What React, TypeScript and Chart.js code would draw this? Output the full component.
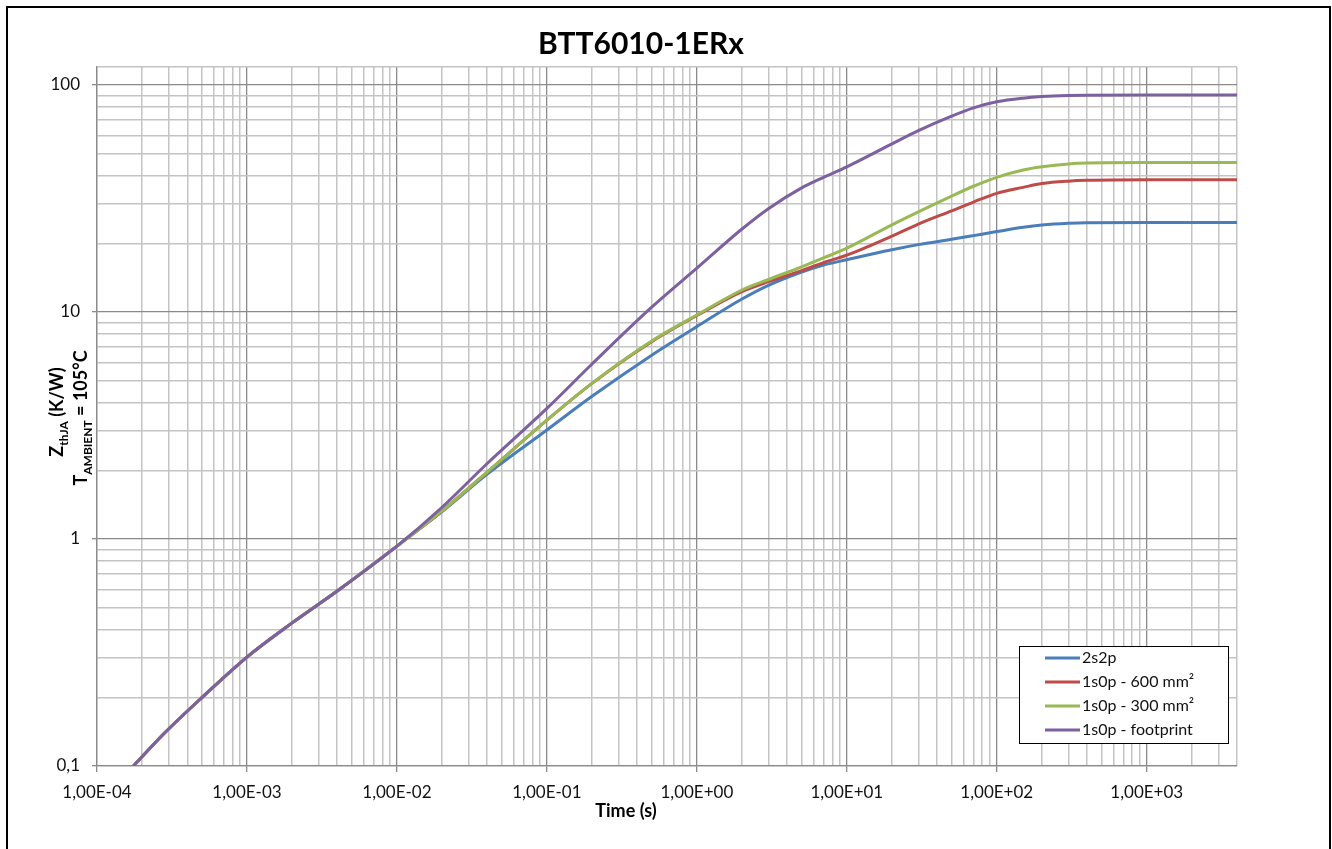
import React, { useEffect, useRef } from 'react';
import { Chart, registerables } from 'chart.js';

Chart.register(...registerables);

const CHART_TITLE = 'BTT6010-1ERx';
const X_TITLE = 'Time (s)';

const TIME_S = [1.75e-4, 2.8e-4, 5e-4, 1e-3, 2e-3, 4e-3, 1e-2, 2e-2, 4e-2, 0.1, 0.2, 0.5, 1, 2, 3, 5, 7, 10, 20, 30, 50, 70, 100, 150, 200, 300, 400, 1000, 4000];
const Z_2S2P = [0.1, 0.139, 0.2, 0.302, 0.427, 0.59, 0.93, 1.32, 1.93, 3.02, 4.25, 6.45, 8.62, 11.4, 13.1, 15.0, 16.1, 17.0, 18.8, 19.8, 20.9, 21.7, 22.6, 23.6, 24.15, 24.6, 24.75, 24.8, 24.8];
const Z_600 = [0.1, 0.139, 0.2, 0.302, 0.427, 0.59, 0.93, 1.33, 1.97, 3.34, 4.85, 7.4, 9.65, 12.3, 13.6, 15.2, 16.5, 17.8, 21.6, 24.4, 27.9, 30.5, 33.3, 35.4, 36.8, 37.7, 38.0, 38.2, 38.2];
const Z_300 = [0.1, 0.139, 0.2, 0.302, 0.427, 0.59, 0.93, 1.33, 1.97, 3.34, 4.85, 7.45, 9.7, 12.5, 13.9, 15.8, 17.3, 19.1, 24.2, 27.6, 32.4, 35.8, 39.2, 42.2, 43.6, 44.9, 45.3, 45.5, 45.5];
const Z_FOOTPRINT = [0.1, 0.139, 0.2, 0.302, 0.427, 0.59, 0.93, 1.38, 2.15, 3.76, 5.9, 10.5, 15.6, 23.2, 28.5, 35.2, 39.2, 43.6, 55.0, 62.9, 72.9, 79.3, 84.3, 87.5, 88.9, 89.9, 90.2, 90.3, 90.3];

const SERIES_LABELS = ['2s2p', '1s0p - 600 mm²', '1s0p - 300 mm²', '1s0p - footprint'];
const SERIES_VALUES = [Z_2S2P, Z_600, Z_300, Z_FOOTPRINT];
const SERIES_COLORS = ['#4A7EBB', '#BE4B48', '#98B954', '#7D60A0'];

const X_MIN = 1e-4;
const X_MAX = 4000;
const Y_MIN = 0.1;
const Y_MAX = 120;
const Y_TICK_LABELS: Record<string, string> = { '0.1': '0,1', '1': '1', '10': '10', '100': '100' };

const FONT = 'Lato, "Noto Sans", sans-serif';

function isPow10(v: number) {
  const l = Math.log10(v);
  return Math.abs(l - Math.round(l)) < 1e-9;
}

function buildLogTicks(min: number, max: number) {
  const ticks: { value: number; major: boolean }[] = [];
  const e0 = Math.floor(Math.log10(min) + 1e-9);
  const e1 = Math.ceil(Math.log10(max) - 1e-9);
  for (let e = e0; e <= e1; e++) {
    for (let m = 1; m <= 9; m++) {
      const v = parseFloat((m * Math.pow(10, e)).toPrecision(6));
      if (v >= min * (1 - 1e-9) && v <= max * (1 + 1e-9)) ticks.push({ value: v, major: m === 1 });
    }
  }
  if (ticks[ticks.length - 1].value < max * (1 - 1e-9)) ticks.push({ value: max, major: false });
  return ticks;
}

function fmtX(v: number) {
  const s = v.toExponential(2).replace('.', ',');
  return s.replace(/e([+-])(\d+)$/, (_m, sg, d) => 'E' + sg + (d.length < 2 ? '0' + d : d));
}

const MAJOR_GRID = '#8a8a8a';
const MINOR_GRID = '#c4c4c4';

const decorPlugin = {
  id: 'decor',
  beforeDraw(chart: any) {
    const ctx = chart.ctx;
    ctx.save();
    ctx.fillStyle = '#ffffff';
    ctx.fillRect(0, 0, chart.width, chart.height);
    ctx.restore();
  },
  afterDraw(chart: any) {
    const ctx = chart.ctx;
    ctx.save();
    // outer frame
    ctx.strokeStyle = '#000';
    ctx.lineWidth = 2;
    ctx.strokeRect(7, 7, chart.width - 9, chart.height + 10);

    // title
    ctx.fillStyle = '#000';
    ctx.font = `bold 30px ${FONT}`;
    ctx.textAlign = 'center';
    ctx.textBaseline = 'middle';
    ctx.fillText(CHART_TITLE, 641, 44);

    // x title
    ctx.font = `bold 18px ${FONT}`;
    ctx.fillText(X_TITLE, 626, 811);

    // y title (rotated, two lines with subscripts)
    const drawRuns = (runs: { t: string; size: number; dy: number }[], cx: number, cy: number) => {
      ctx.save();
      ctx.translate(cx, cy);
      ctx.rotate(-Math.PI / 2);
      ctx.textAlign = 'left';
      ctx.textBaseline = 'alphabetic';
      let w = 0;
      for (const r of runs) {
        ctx.font = `bold ${r.size}px ${FONT}`;
        w += ctx.measureText(r.t).width;
      }
      let x = -w / 2;
      for (const r of runs) {
        ctx.font = `bold ${r.size}px ${FONT}`;
        ctx.fillText(r.t, x, r.dy);
        x += ctx.measureText(r.t).width;
      }
      ctx.restore();
    };
    drawRuns([
      { t: 'Z', size: 18, dy: 0 },
      { t: 'thJA', size: 12, dy: 5 },
      { t: ' (K/W)', size: 18, dy: 0 },
    ], 63, 412);
    drawRuns([
      { t: 'T', size: 18, dy: 0 },
      { t: 'AMBIENT', size: 12, dy: 5 },
      { t: ' = 105°C', size: 18, dy: 0 },
    ], 87, 418);

    // legend
    const lx = 1019, ly = 646, lw = 209, lh = 97;
    ctx.fillStyle = '#fff';
    ctx.fillRect(lx, ly, lw, lh);
    ctx.strokeStyle = '#000';
    ctx.lineWidth = 1;
    ctx.strokeRect(lx + 0.5, ly + 0.5, lw, lh);
    ctx.font = `16px ${FONT}`;
    ctx.textAlign = 'left';
    ctx.textBaseline = 'middle';
    SERIES_LABELS.forEach((label, i) => {
      const y = ly + 12 + i * 24;
      ctx.strokeStyle = SERIES_COLORS[i];
      ctx.lineWidth = 3;
      ctx.beginPath();
      ctx.moveTo(lx + 26, y);
      ctx.lineTo(lx + 61, y);
      ctx.stroke();
      ctx.fillStyle = '#111';
      ctx.fillText(label, lx + 63, y);
    });
    ctx.restore();
  },
};

export default function App() {
  const ref = useRef<HTMLCanvasElement>(null);
  useEffect(() => {
    const canvas = ref.current!;
    const gridColor = (c: any) => (c.tick && isPow10(c.tick.value) ? MAJOR_GRID : MINOR_GRID);
    const tickColor = (c: any) => (c.tick && isPow10(c.tick.value) ? MAJOR_GRID : 'rgba(0,0,0,0)');
    const gridWidth = (c: any) => (c.tick && isPow10(c.tick.value) ? 1.3 : 1.5);
    const chart = new Chart(canvas, {
      type: 'line',
      data: {
        datasets: SERIES_LABELS.map((label, i) => ({
          label,
          data: TIME_S.map((t, j) => ({ x: t, y: SERIES_VALUES[i][j] })),
          borderColor: SERIES_COLORS[i],
          backgroundColor: SERIES_COLORS[i],
          borderWidth: 3,
          pointRadius: 0,
          fill: false,
          order: SERIES_LABELS.length - i,
          cubicInterpolationMode: 'monotone' as const,
        })),
      },
      options: {
        animation: false,
        responsive: false,
        maintainAspectRatio: false,
        layout: { padding: { left: 0, right: 95, top: 67, bottom: 0 } },
        plugins: {
          legend: { display: false },
          title: { display: false },
          tooltip: { enabled: false },
        },
        scales: {
          x: {
            type: 'logarithmic',
            min: X_MIN,
            max: X_MAX,
            afterBuildTicks: (scale: any) => {
              scale.ticks = buildLogTicks(X_MIN, X_MAX);
            },
            afterFit: (scale: any) => {
              scale.height = 83;
            },
            grid: { color: gridColor, tickColor, lineWidth: gridWidth, tickLength: 6, drawTicks: true },
            border: { display: true, color: MAJOR_GRID, width: 1.3 },
            ticks: {
              autoSkip: false,
              maxRotation: 0,
              minRotation: 0,
              padding: 10,
              color: '#111',
              font: { family: FONT, size: 17 },
              callback: (v: any) => (isPow10(Number(v)) ? fmtX(Number(v)) : ''),
            },
          },
          y: {
            type: 'logarithmic',
            min: Y_MIN,
            max: Y_MAX,
            afterBuildTicks: (scale: any) => {
              scale.ticks = buildLogTicks(Y_MIN, Y_MAX);
            },
            afterFit: (scale: any) => {
              scale.width = 97;
            },
            grid: { color: gridColor, tickColor, lineWidth: gridWidth, tickLength: 5, drawTicks: true },
            border: { display: true, color: MAJOR_GRID, width: 1.3 },
            ticks: {
              autoSkip: false,
              padding: 12,
              color: '#111',
              font: { family: FONT, size: 17 },
              callback: (v: any) => {
                const n = Number(v);
                if (!isPow10(n)) return '';
                return Y_TICK_LABELS[String(n)] ?? String(n);
              },
            },
          },
        },
      },
      plugins: [decorPlugin],
    } as any);
    return () => chart.destroy();
  }, []);
  return (
    <div style={{ position: 'fixed', left: 0, top: 0, width: 1332, height: 849, background: '#fff' }}>
      <canvas ref={ref} width={1332} height={849} style={{ display: 'block', width: 1332, height: 849 }} />
    </div>
  );
}
